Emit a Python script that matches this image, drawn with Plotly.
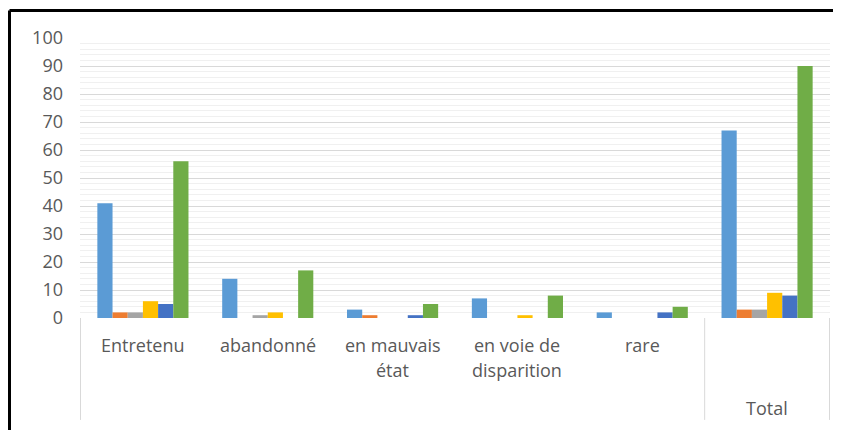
import plotly.graph_objects as go

categories = ["Entretenu", "abandonné", "en mauvais état", "en voie de disparition", "rare", "Total"]
label_lines = [["Entretenu"], ["abandonné"], ["en mauvais", "état"], ["en voie de", "disparition"], ["rare"], ["Total"]]
series_names = ["S1", "S2", "S3", "S4", "S5", "S6"]
s1 = [41, 14, 3, 7, 2, 67]
s2 = [2, 0, 1, 0, 0, 3]
s3 = [2, 1, 0, 0, 0, 3]
s4 = [6, 2, 0, 1, 0, 9]
s5 = [5, 0, 1, 0, 2, 8]
s6 = [56, 17, 5, 8, 4, 90]
colors = ["#5B9BD5", "#ED7D31", "#A5A5A5", "#FFC000", "#4472C4", "#70AD47"]
y_ticks = [0, 10, 20, 30, 40, 50, 60, 70, 80, 90, 100]

fig = go.Figure()
for name, vals, c in zip(series_names, [s1, s2, s3, s4, s5, s6], colors):
    fig.add_trace(go.Bar(x=categories, y=vals, name=name, marker=dict(color=c, line=dict(width=0))))

font_family = "Open Sans"
txt_color = "#595959"
fs = 18

fig.update_layout(
    width=833, height=422,
    margin=dict(l=72, r=11, t=30, b=112),
    paper_bgcolor="white", plot_bgcolor="white",
    barmode="group", bargap=0.27, bargroupgap=0,
    showlegend=False,
    font=dict(family=font_family, size=fs, color=txt_color),
    xaxis=dict(showticklabels=False, showgrid=False, zeroline=False, showline=False, ticks=""),
    yaxis=dict(range=[0, 100], tickvals=y_ticks, showgrid=True, gridcolor="#D9D9D9", gridwidth=1,
               zeroline=False, showline=False, ticks="", ticklabelstandoff=16,
               tickfont=dict(family=font_family, size=fs, color=txt_color),
               minor=dict(dtick=2, showgrid=True, gridcolor="#F0F0F0", gridwidth=1)),
)

# category dividers (hierarchical axis look)
n = len(categories)
for xv in [-0.5, n - 1.5, n - 0.5]:
    fig.add_shape(type="line", xref="x", yref="paper", x0=xv, x1=xv, y0=0, y1=-0.364,
                  line=dict(color="#D9D9D9", width=1))

# category labels
for i, lines in enumerate(label_lines):
    if categories[i] == "Total":
        starts = [-0.32]
    else:
        starts = [-0.095 - 0.09 * k for k in range(len(lines))]
    for ln, yy in zip(lines, starts):
        fig.add_annotation(x=categories[i], y=yy, xref="x", yref="paper", text=ln, showarrow=False,
                           yanchor="middle", font=dict(family=font_family, size=fs, color=txt_color))

# outer black frame (top and left)
fig.add_shape(type="line", xref="paper", yref="paper", x0=-0.094, x1=1.02, y0=1.098, y1=1.098,
              line=dict(color="black", width=3))
fig.add_shape(type="line", xref="paper", yref="paper", x0=-0.094, x1=-0.094, y0=1.098, y1=-0.5,
              line=dict(color="black", width=3))

fig.write_html("out.html")
